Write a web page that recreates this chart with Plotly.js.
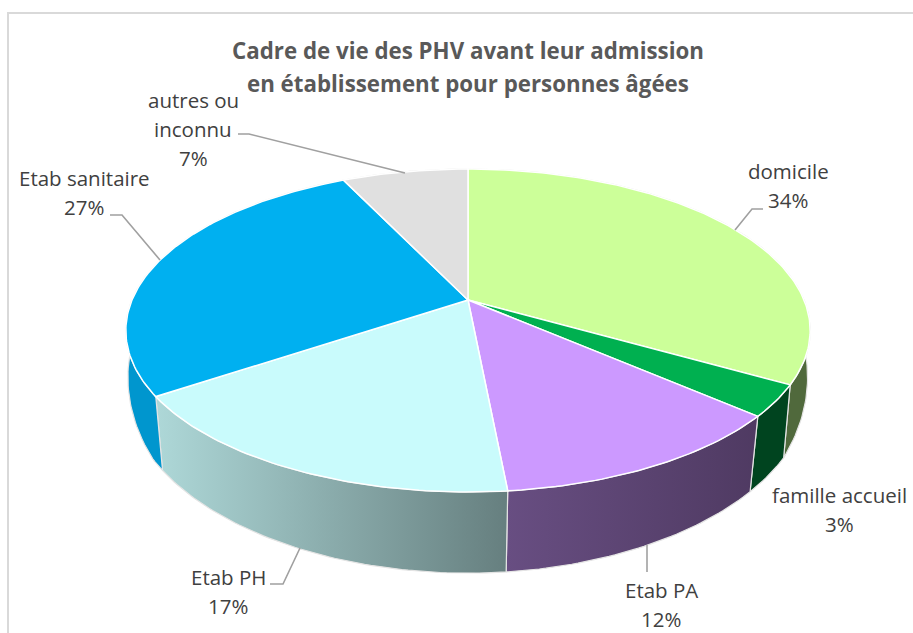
<!DOCTYPE html>
<html><head><meta charset="utf-8">
<script src="https://cdn.plot.ly/plotly-3.0.1.min.js"></script>
<style>html,body{margin:0;padding:0;background:#fff}#c{width:913px;height:633px}</style>
</head><body><div id="c"></div>
<script>
const categories = ["domicile","famille accueil","Etab PA","Etab PH","Etab sanitaire","autres ou inconnu"];
const values = [33.5,3.1,11.9,17.4,27.1,7.0];
const topColors = ["#CCFF99","#00B050","#CC99FF","#C9FBFC","#00B0F0","#E0E0E0"];
const wallColors = [["#50693C","#50693C"],["#00441F","#00441F"],["#684E82","#4F3A62"],["#AED8D8","#667F7F"],["#0096CE","#0096CE"],["#9A9A9A","#9A9A9A"]];
const labelLines = [["domicile"],["famille accueil"],["Etab PA"],["Etab PH"],["Etab sanitaire"],["autres ou","inconnu"]];
const labelX = [788,839,661,228,84,193];
const labelY = [171,495,590,577,178,100];
const lineGap = 29;
const leaderX = [[763,752,735],[],[647,647],[270,283,300],[110,122,160],[238,249,405]];
const leaderY = [[209,209,230],[],[545,572],[584,584,548],[215,215,260],[134,134,173]];
const titleLines = ["Cadre de vie des PHV avant leur admission","en établissement pour personnes âgées"];

// perspective view of the disc
const cx=468, cy=300, C=336, B=155.7, P=0.189;
function topPt(a){const t=a-0.02*Math.abs(Math.sin(a));const w=1+P*Math.cos(t);return [cx+C*Math.sin(t)/w, cy-B*Math.cos(t)/w];}
function basePt(a){const p=topPt(a);const s=1+0.04*Math.min(0,Math.cos(a));
  const off=p[1]<385?73-0.327*(385-p[1]):73+0.076*(p[1]-385);
  return [cx+s*(p[0]-cx), p[1]+off];}

const total=values.reduce((a,b)=>a+b,0);
let acc=0; const traces=[], tops=[];
values.forEach((v,i)=>{
  const a0=acc/total*2*Math.PI; acc+=v; const a1=acc/total*2*Math.PI;
  const n=Math.max(8,Math.round((a1-a0)*60));
  const arc=[]; for(let k=0;k<=n;k++) arc.push(a0+(a1-a0)*k/n);
  const T=arc.map(topPt), Br=arc.map(basePt).reverse();
  const wall=T.concat(Br,[T[0]]);
  traces.push({type:"scatter",mode:"lines",x:wall.map(p=>p[0]),y:wall.map(p=>p[1]),fill:"toself",
    fillgradient:{type:"horizontal",colorscale:[[0,wallColors[i][0]],[1,wallColors[i][1]]]},
    line:{color:"#E4E4E4",width:1.2},hoverinfo:"skip",showlegend:false});
  const s=[[cx,cy]].concat(T,[[cx,cy]]);
  tops.push({type:"scatter",mode:"lines",name:categories[i],x:s.map(p=>p[0]),y:s.map(p=>p[1]),fill:"toself",
    fillcolor:topColors[i],line:{color:"#FFFFFF",width:1.5},hoverinfo:"name",showlegend:false});
});
const leaders=leaderX.map((xs,i)=>({type:"scatter",mode:"lines",x:xs,y:leaderY[i],line:{color:"#A0A0A0",width:1.6},hoverinfo:"skip",showlegend:false}));

const annotations=[];
labelLines.forEach((lines,i)=>{
  lines.concat([Math.round(values[i])+"%"]).forEach((t,k)=>{
    annotations.push({x:labelX[i],y:labelY[i]+k*lineGap,xref:"x",yref:"y",text:t,showarrow:false,xanchor:"center",yanchor:"middle",
      font:{family:"'Open Sans',sans-serif",size:20.5,color:"#404040"}});
  });
});
annotations.push({x:468,y:83,xref:"x",yref:"y",text:titleLines[1],showarrow:false,xanchor:"center",yanchor:"middle",
  font:{family:"'Open Sans',sans-serif",size:22.3,color:"#595959",weight:700}});

Plotly.newPlot("c",traces.concat(tops,leaders),{
  width:913,height:633,margin:{l:0,r:0,t:0,b:0},paper_bgcolor:"#fff",plot_bgcolor:"#fff",
  title:{text:titleLines[0],x:468/913,xref:"paper",xanchor:"center",y:1-51/633,yref:"container",yanchor:"middle",
    font:{family:"'Open Sans',sans-serif",size:22.3,color:"#595959",weight:700}},
  xaxis:{range:[0,913],visible:false,fixedrange:true},
  yaxis:{range:[633,0],visible:false,fixedrange:true},
  shapes:[{type:"path",path:"M 8 633 L 8 13 L 913 13",xref:"x",yref:"y",line:{color:"#D9D9D9",width:2}}],
  annotations:annotations
},{displayModeBar:false,staticPlot:true});
</script></body></html>
